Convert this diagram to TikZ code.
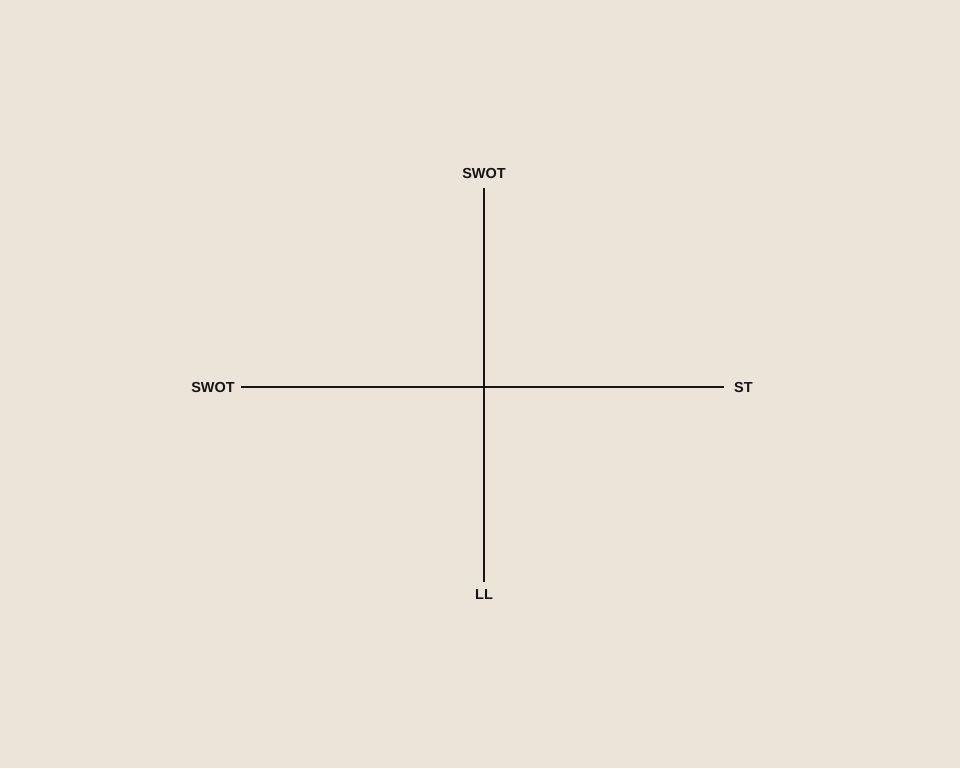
\documentclass[tikz,border=0pt]{standalone}
\usepackage{fontspec}
\setmainfont{Liberation Sans}
\usetikzlibrary{positioning}
\definecolor{paper}{HTML}{EDE4D9}
\definecolor{ink}{HTML}{151515}

\begin{document}
\begin{tikzpicture}[x=1pt,y=1pt,
    axis/.style={ink, line width=2.3pt},
    lab/.style={text=ink, inner sep=0pt, font=\fontsize{14.5}{16}\selectfont\bfseries}]
      \fill[paper] (0,0) rectangle (960,768);
      \coordinate (up) at (484,580);
      \coordinate (down) at (484,186);
      \coordinate (west) at (241,381);
      \coordinate (east) at (724,381);
      \draw[axis] (up) -- (down);
      \draw[axis] (west) -- (east);
      \node[lab, above=9pt of up] (swotUp) {SWOT};
      \node[lab, below=7pt of down] (ll) {LL};
      \node[lab, left=6pt of west, yshift=-1pt] (swotLeft) {SWOT};
      \node[lab, right=10pt of east, yshift=-1pt] (st) {ST};
    \end{tikzpicture}
\end{document}
